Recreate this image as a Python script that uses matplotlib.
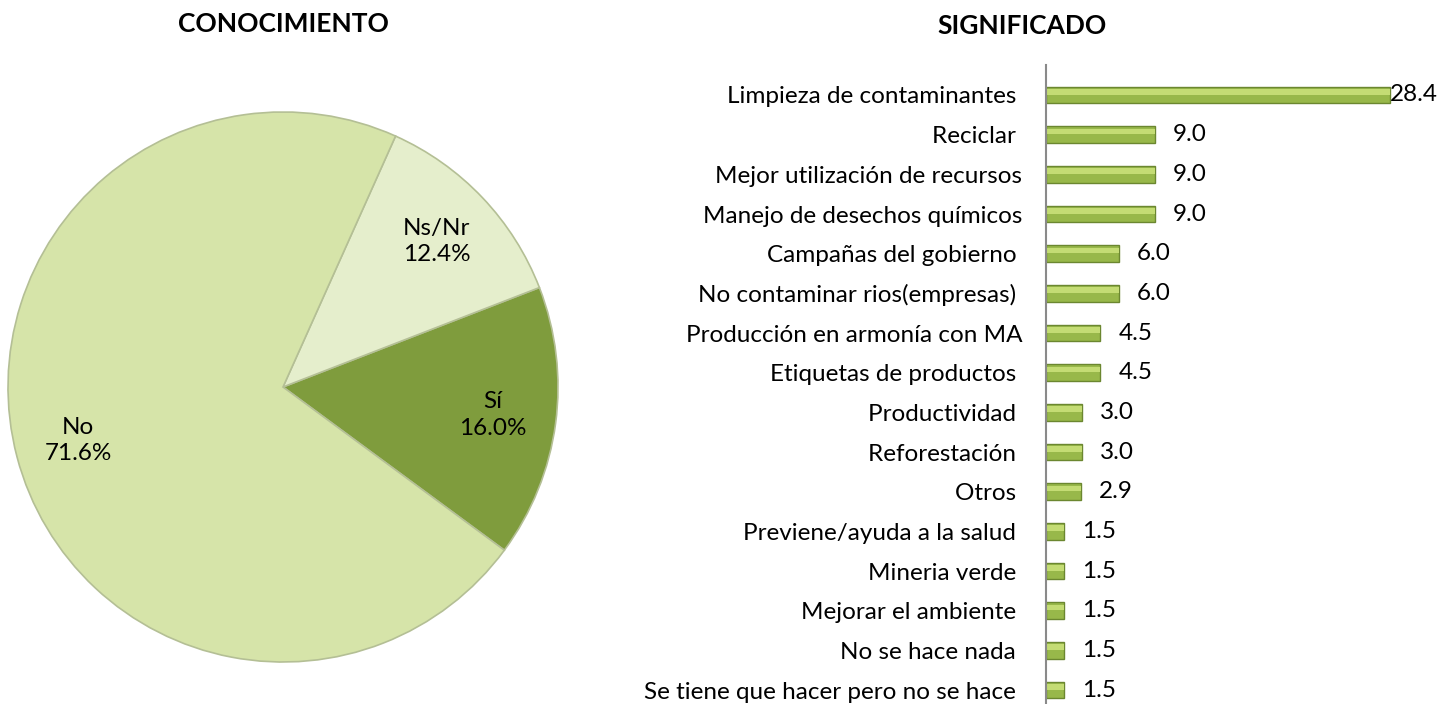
import matplotlib
matplotlib.use("Agg")
import matplotlib.pyplot as plt
import numpy as np

plt.rcParams['font.family'] = ['Lato', 'DejaVu Sans']

# pie data (CONOCIMIENTO)
pie_labels = ['Sí', 'Ns/Nr', 'No']
pie_values = [16.0, 12.4, 71.6]
pie_colors = ['#7f9c3d', '#e5eecc', '#d6e4a9']

# bar data (SIGNIFICADO)
categories = [
    'Limpieza de contaminantes ',
    'Reciclar ',
    'Mejor utilización de recursos',
    'Manejo de desechos químicos',
    'Campañas del gobierno ',
    'No contaminar rios(empresas) ',
    'Producción en armonía con MA',
    'Etiquetas de productos ',
    'Productividad ',
    'Reforestación ',
    'Otros ',
    'Previene/ayuda a la salud ',
    'Mineria verde ',
    'Mejorar el ambiente ',
    'No se hace nada ',
    'Se tiene que hacer pero no se hace ',
]
values = [28.4, 9.0, 9.0, 9.0, 6.0, 6.0, 4.5, 4.5, 3.0, 3.0, 2.9, 1.5, 1.5, 1.5, 1.5, 1.5]

W, H = 1450, 704
fig = plt.figure(figsize=(W / 100, H / 100), dpi=100)
fs = 17.5

# ---- pie ----
ax1 = fig.add_axes([8 / W, (H - 662) / H, 550 / W, 550 / H])
wedges, _ = ax1.pie(pie_values, colors=pie_colors, startangle=-36.4,
                    counterclock=True,
                    wedgeprops=dict(edgecolor='#b4bf95', linewidth=1.2))
ax1.set_xlim(-1, 1)
ax1.set_ylim(-1, 1)
ax1.set_aspect('equal')
for w, lab, v in zip(wedges, pie_labels, pie_values):
    ang = np.deg2rad((w.theta1 + w.theta2) / 2)
    r = 0.77
    ax1.text(r * np.cos(ang), r * np.sin(ang), f'{lab}\n{v:.1f}%',
             ha='center', va='center', fontsize=fs, linespacing=1.3)
fig.text(283 / W, 1 - 24 / H, 'CONOCIMIENTO', ha='center', va='center',
         fontsize=19, fontweight='bold')

# ---- bars ----
ax2 = fig.add_axes([1046 / W, 0, (W - 1046) / W, (H - 65) / H])
y = np.arange(len(categories))
ax2.barh(y, values, height=0.42, color='#98b84a', edgecolor='#6b8730',
         linewidth=1)
ax2.barh(y - 0.08, values, height=0.14, color='#c4dc74', linewidth=0)
ax2.set_xlim(0, 33.4)
ax2.set_ylim(15.35, -0.756)
ax2.set_yticks(y)
ax2.set_yticklabels(categories, fontsize=fs)
ax2.tick_params(axis='y', length=0, pad=17)
ax2.set_xticks([])
for s in ['top', 'right', 'bottom']:
    ax2.spines[s].set_visible(False)
ax2.spines['left'].set_color('#8a8a8a')
ax2.spines['left'].set_linewidth(1.5)
vmax = max(values)
for yi, v in zip(y, values):
    off = 0 if v == vmax else 13
    ax2.annotate(f'{v:.1f}', (v, yi), xytext=(off, 0), textcoords='offset points',
                 ha='left', va='center', fontsize=fs)
fig.text(1022 / W, 1 - 26 / H, 'SIGNIFICADO', ha='center', va='center',
         fontsize=19, fontweight='bold')

fig.savefig('out.png', dpi=100)
